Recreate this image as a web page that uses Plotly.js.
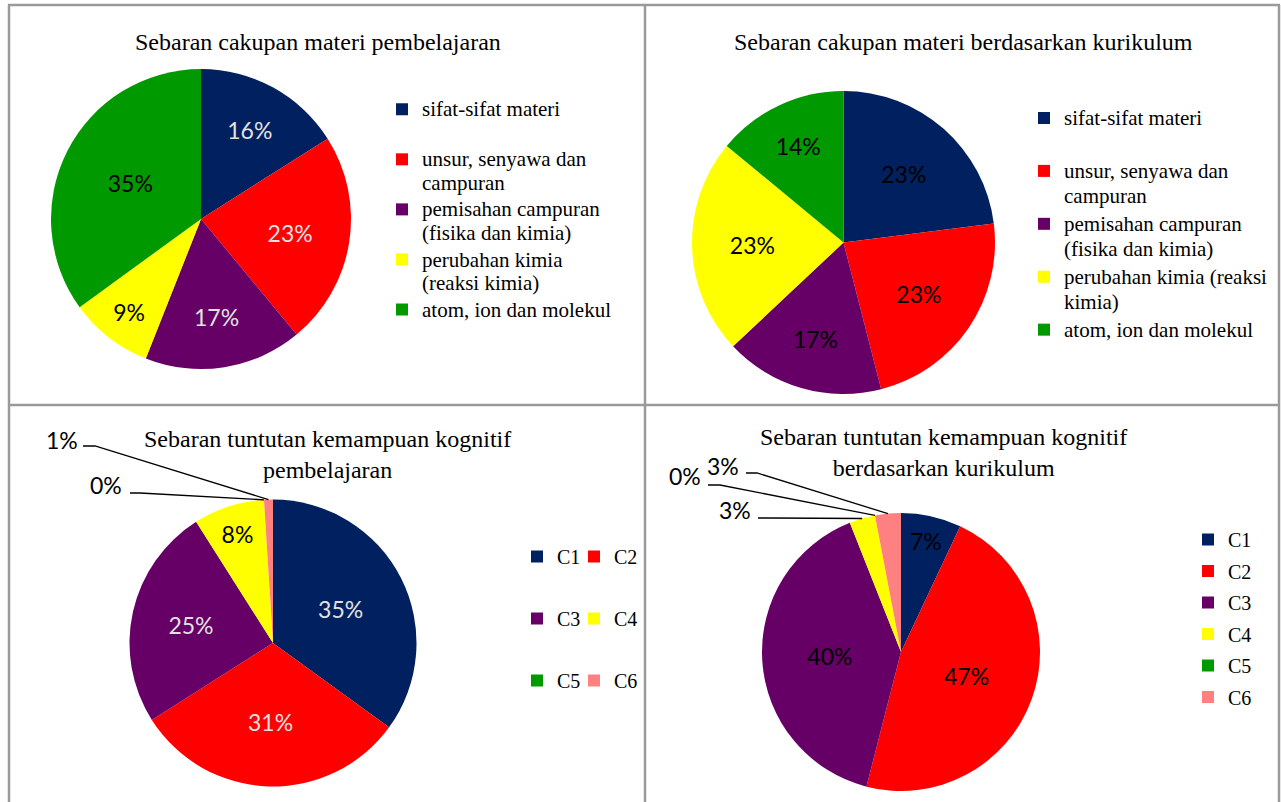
<!DOCTYPE html>
<html><head><meta charset="utf-8">
<script src="https://cdn.plot.ly/plotly-3.0.1.min.js"></script>
<style>html,body{margin:0;padding:0;background:#fff;overflow:hidden}#chart{width:1281px;height:802px}</style>
</head><body><div id="chart"></div>
<script>
const W = 1281, H = 802;

// ---------- data ----------
const materiLabels = ['sifat-sifat materi', 'unsur, senyawa dan campuran', 'pemisahan campuran (fisika dan kimia)', 'perubahan kimia (reaksi kimia)', 'atom, ion dan molekul'];
// legend lines as wrapped in the original
const materiLegendTL = [['sifat-sifat materi', '\u00a0'], ['unsur, senyawa dan', 'campuran'], ['pemisahan campuran', '(fisika dan kimia)'], ['perubahan kimia', '(reaksi kimia)'], ['atom, ion dan molekul']];
const materiLegendTR = [['sifat-sifat materi', '\u00a0'], ['unsur, senyawa dan', 'campuran'], ['pemisahan campuran', '(fisika dan kimia)'], ['perubahan kimia (reaksi', 'kimia)'], ['atom, ion dan molekul']];
const materiPembelajaran = [16, 23, 17, 9, 35];
const materiKurikulum = [23, 23, 17, 23, 14];

const kognitifLabels = ['C1', 'C2', 'C3', 'C4', 'C5', 'C6'];
const kognitifPembelajaran = [35, 31, 25, 8, 0, 1];
const kognitifKurikulum = [7, 47, 40, 3, 0, 3];

const titleTL = 'Sebaran cakupan materi pembelajaran';
const titleTR = 'Sebaran cakupan materi berdasarkan kurikulum';
const titleBL = 'Sebaran tuntutan kemampuan kognitif<br>pembelajaran';
const titleBR = 'Sebaran tuntutan kemampuan kognitif<br>berdasarkan kurikulum';

// ---------- style ----------
const colors = ['#002060', '#FF0000', '#660066', '#FFFF00', '#009900', '#FF8080'];
const LIGHT = '#e2e2e2', DARK = '#000000';
const serif = 'Liberation Serif, Times New Roman, serif';
const sans = 'Lato, Carlito, Open Sans, sans-serif';

const px = x => x / W;
const py = y => 1 - y / H;
function dom(cx, cy, r) { return {x: [px(cx - r), px(cx + r)], y: [py(cy + r), py(cy - r)]}; }

// pie geometry (pixels): centre and radius
const geoTL = {cx: 201, cy: 219, r: 150};
const geoTR = {cx: 843.5, cy: 242.5, r: 151.5};
const geoBL = {cx: 273, cy: 643, r: 143.5};
const geoBR = {cx: 901, cy: 652, r: 139};

function pct(vals, i) { const s = vals.reduce((a, b) => a + b, 0); return Math.round(100 * vals[i] / s) + '%'; }
function edgePoint(vals, i, g) {
  const s = vals.reduce((a, b) => a + b, 0);
  let before = 0; for (let k = 0; k < i; k++) before += vals[k];
  const a = 2 * Math.PI * (before + vals[i] / 2) / s;
  return [g.cx + g.r * Math.sin(a), g.cy - g.r * Math.cos(a)];
}

function pie(vals, labels, geo, textColors, outsideIdx) {
  return {
    type: 'pie', values: vals, labels: labels, sort: false, direction: 'clockwise', rotation: 0,
    domain: dom(geo.cx, geo.cy, geo.r),
    marker: {colors: colors.slice(0, vals.length), line: {width: 0}},
    textposition: 'inside', insidetextorientation: 'horizontal',
    texttemplate: vals.map((v, i) => outsideIdx.includes(i) ? '' : '%{percent:.0%}'),
    insidetextfont: {family: sans, size: 23, color: textColors},
    hoverinfo: 'label+percent', showlegend: false
  };
}

const traces = [
  pie(materiPembelajaran, materiLabels, geoTL, [LIGHT, LIGHT, LIGHT, DARK, DARK], []),
  pie(materiKurikulum, materiLabels, geoTR, [DARK, DARK, DARK, DARK, DARK], []),
  pie(kognitifPembelajaran, kognitifLabels, geoBL, [LIGHT, LIGHT, LIGHT, DARK, DARK, DARK], [4, 5]),
  pie(kognitifKurikulum, kognitifLabels, geoBR, [DARK, DARK, DARK, DARK, DARK, DARK], [3, 4, 5])
];

// legend entries (no data drawn)
function legendEntry(name, color, legend, group) {
  const t = {type: 'scatter', x: [null], y: [null], mode: 'markers', name: name,
    marker: {symbol: 'square', size: 12, color: color},
    legend: legend, showlegend: true, hoverinfo: 'skip'};
  if (group) t.legendgroup = group;
  return t;
}
const big = lines => lines.map(l => '<span style="font-size:21px">' + l + '</span>').join('<br>');
materiLegendTL.forEach((lab, i) => traces.push(legendEntry(big(lab), colors[i], 'legend')));
materiLegendTR.forEach((lab, i) => traces.push(legendEntry(big(lab), colors[i], 'legend2')));
kognitifLabels.forEach((lab, i) => traces.push(legendEntry(lab, colors[i], (i % 2 === 0) ? 'legend3' : 'legend4', 'bl' + i)));
kognitifLabels.forEach((lab, i) => traces.push(legendEntry(lab, colors[i], 'legend5', 'br' + i)));

// outside labels with leader lines (label placement in pixels)
const outsideBL = [
  {i: 5, tx: 62, ty: 440, sx: 83, sy: 446, kx: 95},
  {i: 4, tx: 106, ty: 485, sx: 130, sy: 493, kx: 140}
];
const outsideBR = [
  {i: 5, tx: 723, ty: 466, sx: 746, sy: 473, kx: 757},
  {i: 4, tx: 685, ty: 476, sx: 708, sy: 485, kx: 720},
  {i: 3, tx: 735, ty: 510, sx: 758, sy: 518, kx: 770}
];

const annotations = [];
const shapes = [];
function addTitle(text, x, y) {
  annotations.push({text: text, x: px(x), y: py(y), xref: 'paper', yref: 'paper', showarrow: false,
    xanchor: 'center', yanchor: 'middle', font: {family: serif, size: 24, color: '#000'}});
}
addTitle(titleTL, 318, 42);
addTitle(titleTR, 964, 42);
addTitle(titleBL, 327, 454);
addTitle(titleBR, 943.5, 453);

function addOutside(list, vals, geo) {
  list.forEach(o => {
    annotations.push({text: pct(vals, o.i), x: px(o.tx), y: py(o.ty), xref: 'paper', yref: 'paper', showarrow: false,
      xanchor: 'center', yanchor: 'middle', font: {family: sans, size: 23, color: '#000'}});
    const e = edgePoint(vals, o.i, geo);
    shapes.push({type: 'path', xref: 'paper', yref: 'paper',
      path: 'M' + px(o.sx) + ',' + py(o.sy) + ' L' + px(o.kx) + ',' + py(o.sy) + ' L' + px(e[0]) + ',' + py(e[1]),
      line: {color: '#000', width: 1.3}});
  });
}
addOutside(outsideBL, kognitifPembelajaran, geoBL);
addOutside(outsideBR, kognitifKurikulum, geoBR);

// frame lines
const frameColor = '#9a9a9a';
function hline(y, x0, x1) { shapes.push({type: 'line', xref: 'paper', yref: 'paper', x0: px(x0), x1: px(x1), y0: py(y), y1: py(y), line: {color: frameColor, width: 2.5}}); }
function vline(x, y0, y1) { shapes.push({type: 'line', xref: 'paper', yref: 'paper', x0: px(x), x1: px(x), y0: py(y0), y1: py(y1), line: {color: frameColor, width: 2.5}}); }
hline(5, 8, 1280);
hline(405, 8, 1280);
vline(9, 5, 802);
vline(645, 5, 802);
vline(1279, 5, 802);

function leg(x, y, size) {
  return {x: px(x), y: py(y), xanchor: 'left', yanchor: 'top', bgcolor: 'rgba(0,0,0,0)', borderwidth: 0,
    valign: 'top', itemsizing: 'trace', font: {family: serif, size: size, color: '#000'}};
}

const layout = {
  width: W, height: H, margin: {l: 0, r: 0, t: 0, b: 0},
  paper_bgcolor: '#fff', plot_bgcolor: '#fff',
  font: {family: serif, color: '#000'},
  xaxis: {visible: false}, yaxis: {visible: false},
  legend: leg(382, 91, 18.1),
  legend2: leg(1024, 99, 19.2),
  legend3: Object.assign(leg(517, 537, 20), {tracegroupgap: 33}),
  legend4: Object.assign(leg(574, 537, 20), {tracegroupgap: 33}),
  legend5: Object.assign(leg(1188, 520, 20), {tracegroupgap: 2.5}),
  annotations: annotations, shapes: shapes,
  showlegend: true
};

Plotly.newPlot('chart', traces, layout, {displayModeBar: false, staticPlot: true});
</script>
</body></html>
